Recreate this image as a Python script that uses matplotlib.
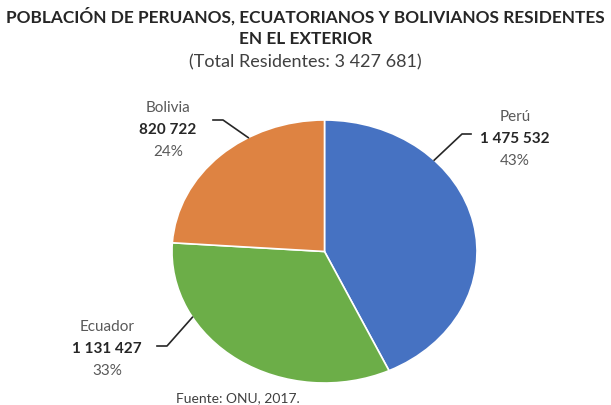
import numpy as np
import matplotlib.pyplot as plt

plt.rcParams['font.family'] = ['Lato', 'DejaVu Sans']

paises = ["Perú", "Ecuador", "Bolivia"]
residentes = [1475532, 1131427, 820722]
porcentajes = [43, 33, 24]
colores = ["#4672C2", "#6CAE48", "#DE8342"]
total = 3427681

W, H = 611, 405
fig = plt.figure(figsize=(W / 100, H / 100), dpi=100)

# pie area (slightly flattened, like the source)
ax = fig.add_axes([172 / W, 1 - 383 / H, 305 / W, 263 / H])
ax.pie(residentes, colors=colores, startangle=90, counterclock=False,
       radius=1, wedgeprops=dict(linewidth=1.2, edgecolor="white"))
ax.set_aspect("auto")
ax.set_xlim(-1, 1)
ax.set_ylim(-1, 1)
ax.axis("off")


def fx(px):
    return px / W


def fy(py):
    return 1 - py / H


# title
fig.text(0.5, fy(16), "POBLACIÓN DE PERUANOS, ECUATORIANOS Y BOLIVIANOS RESIDENTES",
         ha="center", va="center", fontsize=12.4, fontweight="bold", color="#262626")
fig.text(0.5, fy(39), "EN EL EXTERIOR", ha="center", va="center",
         fontsize=12.4, fontweight="bold", color="#262626")
fig.text(0.5, fy(62), f"(Total Residentes: {total:,})".replace(",", " "),
         ha="center", va="center", fontsize=13, color="#404040")

# labels: center x / first line y in pixels, rim angle of the leader, elbow, end
etiquetas = {
    "Perú": dict(x=515, y=117, ang=44, elbow=(462, 134), end=(471, 134)),
    "Ecuador": dict(x=107, y=327, ang=210, elbow=(167, 346), end=(157, 346)),
    "Bolivia": dict(x=168, y=108, ang=120, elbow=(223, 120), end=(213, 120)),
}

for nombre, valor, pct in zip(paises, residentes, porcentajes):
    e = etiquetas[nombre]
    fig.text(fx(e["x"]), fy(e["y"]), nombre, ha="center", va="center",
             fontsize=11, color="#595959")
    fig.text(fx(e["x"]), fy(e["y"] + 22), f"{valor:,}".replace(",", " "),
             ha="center", va="center", fontsize=11, fontweight="bold", color="#262626")
    fig.text(fx(e["x"]), fy(e["y"] + 44), f"{pct}%", ha="center", va="center",
             fontsize=11, color="#595959")
    a = np.deg2rad(e["ang"])
    rim = ax.transData.transform((np.cos(a), np.sin(a)))
    rim = (rim[0] / W, rim[1] / H)
    xs = [rim[0], fx(e["elbow"][0]), fx(e["end"][0])]
    ys = [rim[1], fy(e["elbow"][1]), fy(e["end"][1])]
    fig.add_artist(plt.Line2D(xs, ys, color="#262626", linewidth=1.2))

fig.text(fx(238), fy(398), "Fuente: ONU, 2017.", ha="center", va="center",
         fontsize=10, color="#404040")

fig.savefig("out.png", dpi=100, facecolor="white")
